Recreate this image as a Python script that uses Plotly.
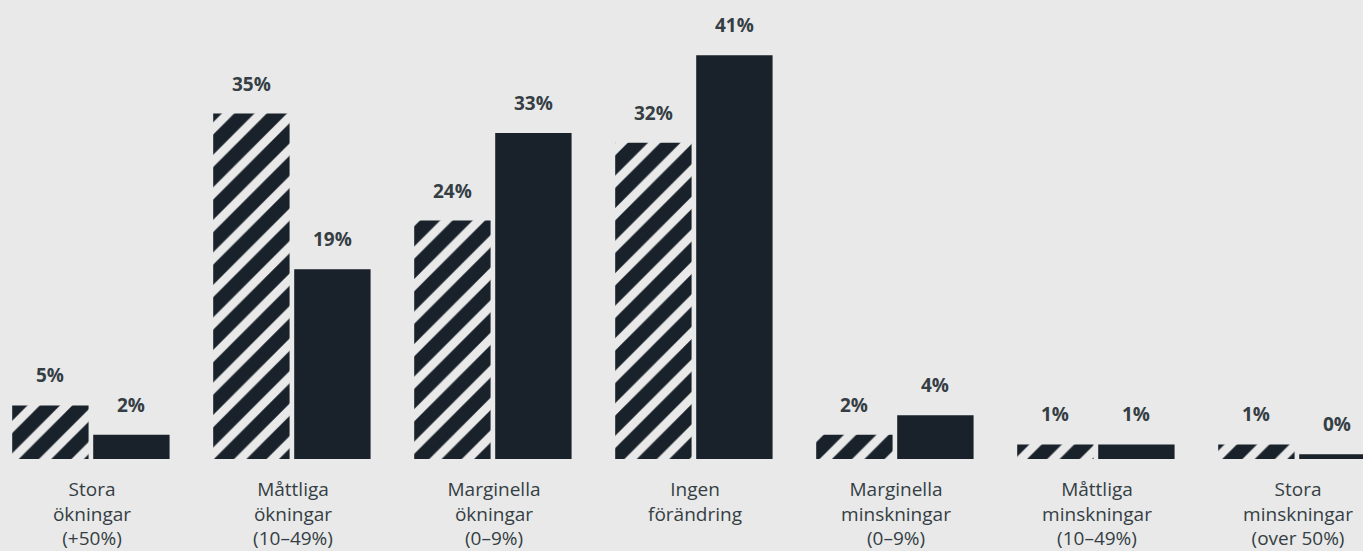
import plotly.graph_objects as go

# Change categories (x axis) and the two series shown for each
categories = [
    "Stora<br>ökningar<br>(+50%)",
    "Måttliga<br>ökningar<br>(10–49%)",
    "Marginella<br>ökningar<br>(0–9%)",
    "Ingen<br>förändring",
    "Marginella<br>minskningar<br>(0–9%)",
    "Måttliga<br>minskningar<br>(10–49%)",
    "Stora<br>minskningar<br>(over 50%)",
]
hatched_values = [5, 35, 24, 32, 2, 1, 1]
solid_values = [2, 19, 33, 41, 4, 1, 0]

BG = "#e8e9e8"
DARK = "#19222a"
LABEL = "#353e44"
FONT = "Open Sans"

# bars sit on a small floor below zero so that 0 % still shows as a thin strip
FLOOR = 0.5
BAR_W = 0.38
OFFSETS = (-0.397, 0.006)

xs = list(range(len(categories)))

fig = go.Figure()
fig.add_trace(go.Bar(
    x=xs,
    y=[v + FLOOR for v in hatched_values],
    base=-FLOOR,
    width=BAR_W,
    offset=OFFSETS[0],
    marker=dict(
        color=BG,
        line=dict(width=0),
        pattern=dict(shape="/", fillmode="replace", fgcolor=DARK,
                     bgcolor=BG, size=23, solidity=0.62),
    ),
    hoverinfo="skip",
    showlegend=False,
))
fig.add_trace(go.Bar(
    x=xs,
    y=[v + FLOOR for v in solid_values],
    base=-FLOOR,
    width=BAR_W,
    offset=OFFSETS[1],
    marker=dict(color=DARK, line=dict(width=0)),
    hoverinfo="skip",
    showlegend=False,
))

# value labels above each bar
for series, off in ((hatched_values, OFFSETS[0]), (solid_values, OFFSETS[1])):
    for i, v in enumerate(series):
        fig.add_annotation(
            x=i + off + BAR_W / 2, y=v, xref="x", yref="y",
            text=f"<b>{v}%</b>", showarrow=False,
            yanchor="middle", yshift=30,
            font=dict(family=FONT, size=19, color=LABEL),
        )

fig.update_layout(
    width=1363, height=551,
    margin=dict(l=0, r=0, t=0, b=92, pad=0),
    paper_bgcolor=BG, plot_bgcolor=BG,
    barmode="overlay",
    font=dict(family=FONT, color=LABEL),
    xaxis=dict(
        range=[-0.4577, 6.3234],
        tickvals=xs, ticktext=categories,
        tickfont=dict(family=FONT, size=19, color=LABEL),
        showgrid=False, zeroline=False, showline=False, ticks="",
        ticklabelstandoff=17,
        automargin=False, fixedrange=True,
    ),
    yaxis=dict(
        range=[-FLOOR, 46.67],
        visible=False, showgrid=False, zeroline=False,
        automargin=False, fixedrange=True,
    ),
)

fig.write_html("out.html")
